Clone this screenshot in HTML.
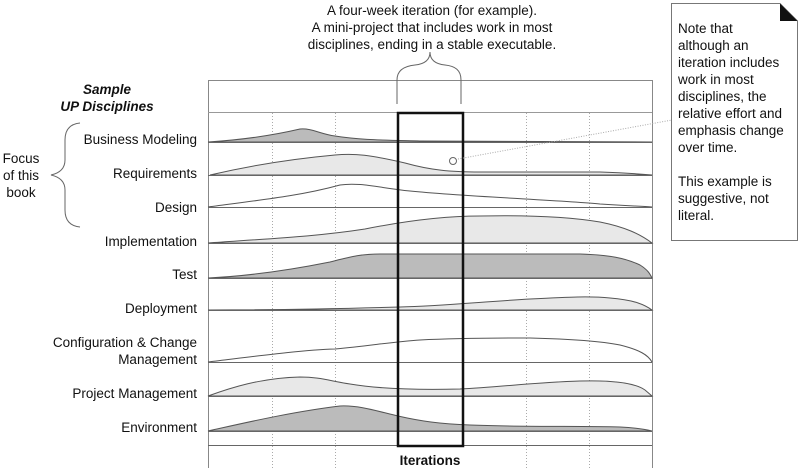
<!DOCTYPE html>
<html><head><meta charset="utf-8"><style>
body{margin:0;background:#fff}
svg{display:block;font-family:"Liberation Sans",Arial,sans-serif}
</style></head><body>
<svg width="800" height="468" viewBox="0 0 800 468" xmlns="http://www.w3.org/2000/svg">
<rect x="0" y="0" width="800" height="468" fill="#fff"/>
<!-- frame -->
<rect x="208.5" y="80.5" width="444" height="400" fill="none" stroke="#888" stroke-width="1"/>
<line x1="208" y1="112.5" x2="652" y2="112.5" stroke="#999"/>
<g stroke="#aaa" stroke-dasharray="1,2" stroke-width="1">
<line x1="272.5" y1="113" x2="272.5" y2="468"/>
<line x1="335.5" y1="113" x2="335.5" y2="468"/>
<line x1="526.5" y1="113" x2="526.5" y2="468"/>
<line x1="589.5" y1="113" x2="589.5" y2="468"/>
</g>
<g stroke="#555" stroke-width="1">
<path d="M208,142 C240,140 270,136 300,129 C312,128 320,134 335,136 C360,140 380,140 420,141 L652,142 Z" fill="#bbb"/>
<path d="M210,175 C240,168 280,160 335,155 C355,153 370,155 405,163 C430,170 450,172 480,172 L600,172 C630,173 640,174 652,175 Z" fill="#e8e8e8"/>
<path d="M208,207 C260,200 300,196 340,185 C360,182 380,188 410,191 C470,197 560,200 600,204 C630,206 640,206 652,207" fill="none"/>
<path d="M208,243 C280,238 320,236 365,229 C400,222 440,216 480,216 C530,215 570,217 600,222 C625,227 640,234 652,243 Z" fill="#e8e8e8"/>
<path d="M208,278 C250,276 290,270 330,262 C350,257 360,254 380,254 L580,254 C610,255 625,258 640,265 C648,270 650,274 652,278 Z" fill="#bbb"/>
<path d="M208,310 C280,310 330,309 400,307 C440,306 480,302 530,299 C570,297 590,296 610,298 C635,300 645,305 652,310 Z" fill="#e8e8e8"/>
<path d="M208,362 C250,357 300,350 335,349 C370,346 390,342 420,340 C460,338 500,338 530,338 C570,339 600,341 620,345 C640,350 648,355 652,362" fill="none"/>
<path d="M208,396 C230,388 260,378 300,377 C320,377 330,381 350,384 C380,389 420,390 460,389 C500,387 540,382 580,381 C615,380 635,383 645,390 L652,396 Z" fill="#e8e8e8"/>
<path d="M208,431 C240,424 290,412 340,406 C360,405 380,412 398,416 C420,421 440,424 470,425 C520,427 580,426 620,427 C640,428 648,430 652,431 Z" fill="#bbb"/>
</g>
<g stroke="#666" stroke-width="1">
<line x1="208" y1="142.5" x2="652" y2="142.5"/><line x1="208" y1="175.5" x2="652" y2="175.5"/>
<line x1="208" y1="207.5" x2="652" y2="207.5"/><line x1="208" y1="243.5" x2="652" y2="243.5"/>
<line x1="208" y1="278.5" x2="652" y2="278.5"/><line x1="208" y1="310.5" x2="652" y2="310.5"/>
<line x1="208" y1="362.5" x2="652" y2="362.5"/><line x1="208" y1="396.5" x2="652" y2="396.5"/>
<line x1="208" y1="431.5" x2="652" y2="431.5"/><line x1="208" y1="445.5" x2="652" y2="445.5"/>
</g>
<rect x="398" y="113" width="65" height="333" fill="none" stroke="#111" stroke-width="2.5"/>
<circle cx="453" cy="161" r="3.5" fill="#fff" stroke="#666"/>
<line x1="458" y1="159" x2="672" y2="120" stroke="#aaa" stroke-dasharray="1,1.5"/>
<!-- top brace -->
<path d="M397,104 L397,80 C397,70 405,66 415,65 C425,64 430,60 430,52 C430,60 435,64 445,65 C455,66 461,70 461,80 L461,104" fill="none" stroke="#666"/>
<g font-size="13.5" text-anchor="middle" fill="#111">
<text x="432" y="15">A four-week iteration (for example).</text>
<text x="432" y="32">A mini-project that includes work in most</text>
<text x="432" y="49">disciplines, ending in a stable executable.</text>
</g>
<g font-size="13.5" font-weight="bold" font-style="italic" text-anchor="middle" fill="#111">
<text x="107" y="94">Sample</text><text x="107" y="111">UP Disciplines</text>
</g>
<g font-size="13.5" text-anchor="end" fill="#111">
<text x="197" y="144">Business Modeling</text>
<text x="197" y="178">Requirements</text>
<text x="197" y="212">Design</text>
<text x="197" y="246">Implementation</text>
<text x="197" y="279">Test</text>
<text x="197" y="313">Deployment</text>
<text x="197" y="347">Configuration &amp; Change</text>
<text x="197" y="364">Management</text>
<text x="197" y="398">Project Management</text>
<text x="197" y="432">Environment</text>
</g>
<g font-size="13.5" text-anchor="middle" fill="#111">
<text x="21" y="163">Focus</text><text x="21" y="180">of this</text><text x="21" y="197">book</text>
</g>
<path d="M80,123 C70,124 65,130 65,140 L65,160 C65,168 60,173 51,175 C60,177 65,182 65,190 L65,210 C65,220 70,226 80,227" fill="none" stroke="#666"/>
<text x="430" y="465" font-size="13.5" font-weight="bold" text-anchor="middle" fill="#111">Iterations</text>
<!-- note -->
<path d="M671.5,3.5 L780,3.5 L797.5,21 L797.5,240.5 L671.5,240.5 Z" fill="#fff" stroke="#777"/>
<path d="M780,3.5 L797.5,21 L780,21 Z" fill="#111"/>
<g font-size="13.5" fill="#111">
<text x="678" y="33">Note that</text><text x="678" y="50">although an</text>
<text x="678" y="67">iteration includes</text><text x="678" y="84">work in most</text>
<text x="678" y="101">disciplines, the</text><text x="678" y="118">relative effort and</text>
<text x="678" y="135">emphasis change</text><text x="678" y="152">over time.</text>
<text x="678" y="186">This example is</text><text x="678" y="203">suggestive, not</text>
<text x="678" y="220">literal.</text>
</g>
</svg>
</body></html>
